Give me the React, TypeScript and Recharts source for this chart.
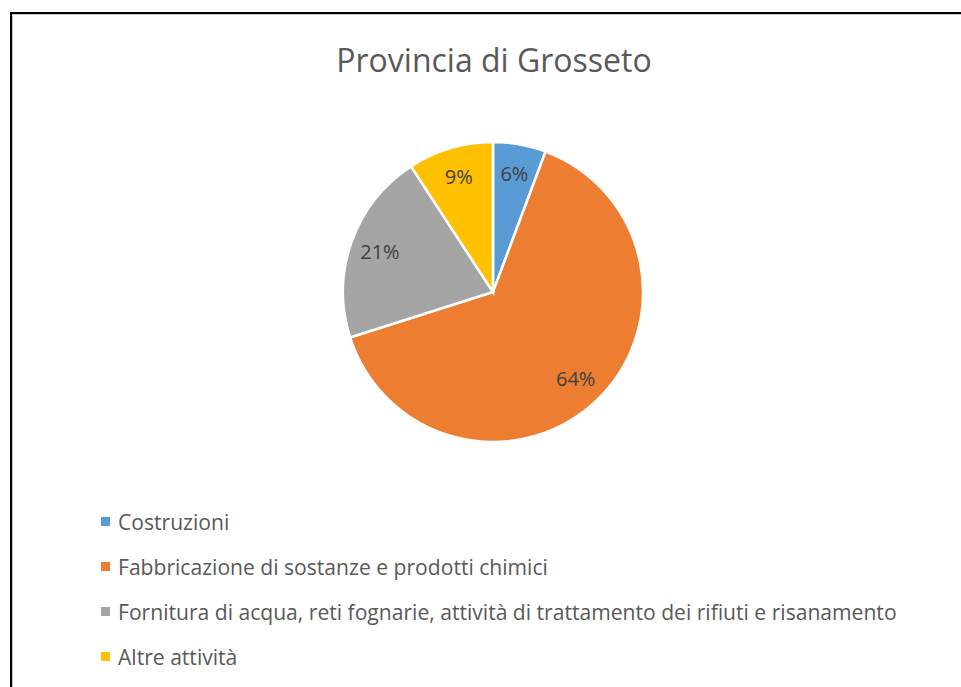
import { Cell, Pie, PieChart } from "recharts";

const categories = [
  "Costruzioni",
  "Fabbricazione di sostanze e prodotti chimici",
  "Fornitura di acqua, reti fognarie, attività di trattamento dei rifiuti e risanamento",
  "Altre attività",
];
const shares = [5.7, 64.4, 20.7, 9.2];
const percentLabels = ["6%", "64%", "21%", "9%"];
const colors = ["#5B9BD5", "#ED7D31", "#A5A5A5", "#FFC000"];

const data = categories.map((name, i) => ({ name, value: shares[i], label: percentLabels[i] }));

const FONT = "'Open Sans', 'Noto Sans', sans-serif";
const RAD = Math.PI / 180;

function renderLabel(props: any) {
  const { cx, cy, midAngle, outerRadius, index } = props;
  const r = outerRadius * 0.8;
  const x = cx + r * Math.cos(-midAngle * RAD);
  const y = cy + r * Math.sin(-midAngle * RAD);
  return (
    <text
      x={x}
      y={y}
      fill="#404040"
      fontSize={20}
      fontFamily={FONT}
      textAnchor="middle"
      dominantBaseline="central"
    >
      {data[index].label}
    </text>
  );
}

export default function App() {
  return (
    <div style={{ position: "fixed", left: 0, top: 0, width: 961, height: 687, background: "#fff", overflow: "hidden" }}>
      <div
        style={{
          position: "absolute",
          left: 10,
          top: 12,
          width: 1000,
          height: 700,
          borderLeft: "2px solid #000",
          borderTop: "2px solid #000",
          boxShadow: "inset 1px 1px 0 #c8c8c8",
        }}
      />
      <div
        style={{
          position: "absolute",
          left: 0,
          width: 988,
          top: 38,
          textAlign: "center",
          fontFamily: FONT,
          fontSize: 32,
          lineHeight: "44px",
          color: "#595959",
        }}
      >
        Provincia di Grosseto
      </div>
      <div style={{ position: "absolute", left: 0, top: 0 }}>
        <PieChart width={961} height={480} margin={{ top: 0, right: 0, bottom: 0, left: 0 }}>
          <Pie
            data={data}
            dataKey="value"
            nameKey="name"
            cx={493}
            cy={292}
            outerRadius={150}
            startAngle={90}
            endAngle={-270}
            stroke="#fff"
            strokeWidth={2.5}
            label={renderLabel}
            labelLine={false}
            isAnimationActive={false}
          >
            {data.map((d, i) => (
              <Cell key={d.name} fill={colors[i]} />
            ))}
          </Pie>
        </PieChart>
      </div>
      <div
        style={{
          position: "absolute",
          left: 101,
          top: 499,
          fontFamily: FONT,
          fontSize: 21.1,
          color: "#595959",
        }}
      >
        {data.map((d, i) => (
          <div key={d.name} style={{ display: "flex", alignItems: "center", height: 45, whiteSpace: "nowrap" }}>
            <span
              style={{ display: "inline-block", width: 9, height: 9, background: colors[i], marginRight: 8 }}
            />
            <span>{d.name}</span>
          </div>
        ))}
      </div>
    </div>
  );
}
